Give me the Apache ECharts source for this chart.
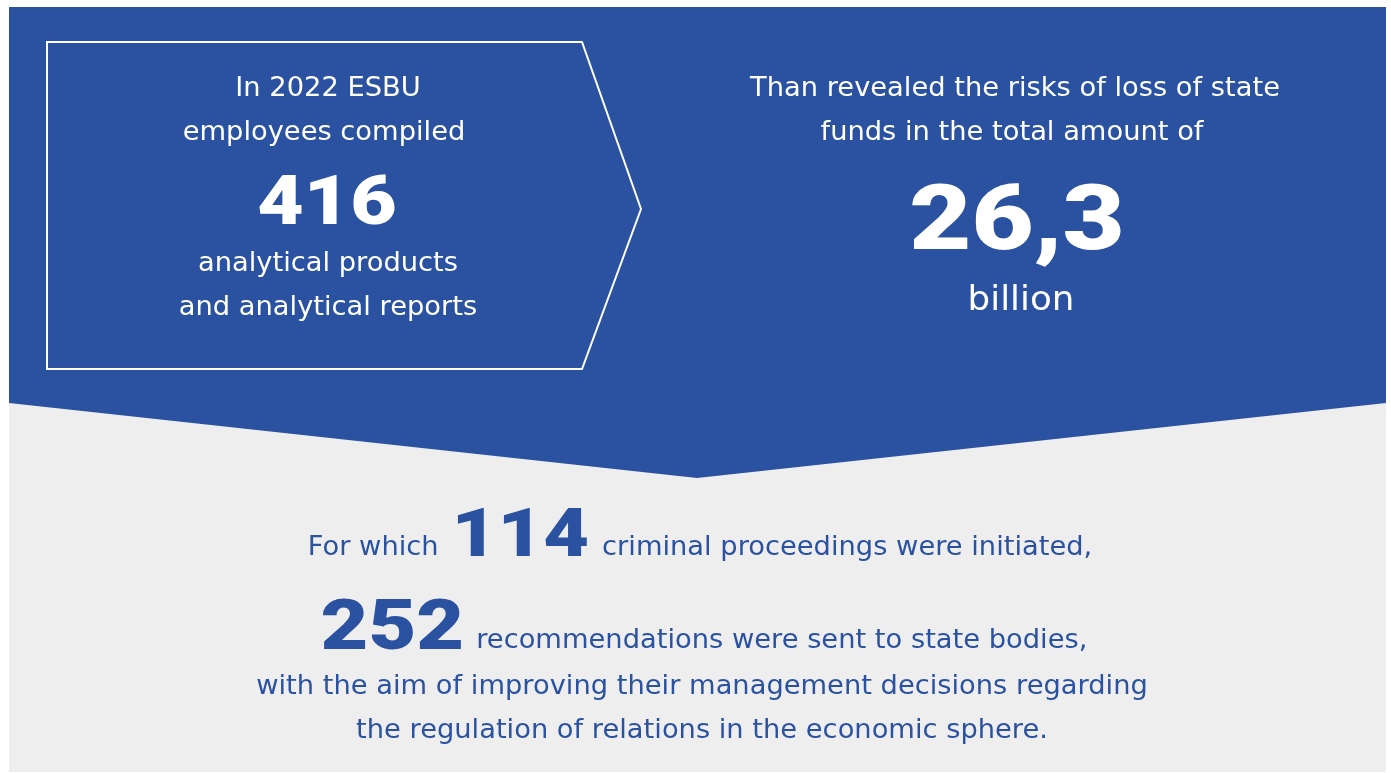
<!DOCTYPE html>
<html>
<head>
<meta charset="utf-8">
<title>ESBU 2022</title>
<script src="https://cdn.jsdelivr.net/npm/echarts@6/dist/echarts.min.js"></script>
<style>
  html, body { margin: 0; padding: 0; background: #ffffff; }
  #main { width: 1391px; height: 773px; }
</style>
</head>
<body>
<div id="main"></div>
<script>
// figures shown on the card
const bigNumbers = ['416', '26,3', '114', '252']
const boxLines = ['In 2022 ESBU', 'employees compiled', 'analytical products', 'and analytical reports']
const riskLines = ['Than revealed the risks of loss of state', 'funds in the total amount of']
const riskUnit = ['billion']
const bottomRow1 = ['For which', 'criminal proceedings were initiated,']
const bottomRow2 = ['recommendations were sent to state bodies,']
const bottomTail = ['with the aim of improving their management decisions regarding', 'the regulation of relations in the economic sphere.']

const BLUE = '#2a52a0'
const GREY = '#eeeeee'
const FONT = '"DejaVu Sans", sans-serif'
const HEAVY = 'Roboto, sans-serif'
const NUM_STRETCH = 1.18
const BODY_STRETCH = 1.05

const chart = echarts.init(document.getElementById('main'))

const ctx = document.createElement('canvas').getContext('2d')
function measure (text, size, weight, family) {
  ctx.font = weight + ' ' + size + 'px ' + family
  return ctx.measureText(text).width
}

function textEl (text, x, y, size, color, opts) {
  opts = opts || {}
  return {
    type: 'text',
    x: x,
    y: y,
    scaleX: opts.stretch || BODY_STRETCH,
    style: {
      text: text,
      fill: color,
      font: (opts.weight || 'normal') + ' ' + size + 'px ' + (opts.family || FONT),
      textAlign: opts.align || 'center',
      textVerticalAlign: 'middle'
    }
  }
}

// place segments on one row, centred, sharing a baseline
function row (segs, cx, baseline, gap) {
  let widths = segs.map(s => measure(s.text, s.size, s.weight || 'normal', s.family || FONT) * (s.stretch || BODY_STRETCH))
  let total = widths.reduce((a, b) => a + b, 0) + gap * (segs.length - 1)
  let x = cx - total / 2
  return segs.map((s, i) => {
    const el = textEl(s.text, x, baseline - s.size * (s.shift || 0.34), s.size, BLUE,
      { align: 'left', weight: s.weight, family: s.family, stretch: s.stretch })
    x += widths[i] + gap
    return el
  })
}

const num = { weight: 900, family: HEAVY, stretch: NUM_STRETCH }

const elements = [
  { type: 'rect', shape: { x: 9, y: 7, width: 1377, height: 765 }, style: { fill: GREY } },
  {
    type: 'polygon',
    shape: { points: [[9, 7], [1386, 7], [1386, 403], [697, 478], [9, 403]] },
    style: { fill: BLUE }
  },
  {
    type: 'polygon',
    shape: { points: [[47, 42], [582, 42], [641, 209], [582, 369], [47, 369]] },
    style: { fill: 'none', stroke: '#ffffff', lineWidth: 2 }
  },
  textEl(boxLines[0], 328, 89, 26, '#fff'),
  textEl(boxLines[1], 324, 133, 26, '#fff'),
  textEl(bigNumbers[0], 327, 207, 68, '#fff', num),
  textEl(boxLines[2], 328, 264, 26, '#fff'),
  textEl(boxLines[3], 328, 308, 26, '#fff'),
  textEl(riskLines[0], 1015, 89, 26, '#fff'),
  textEl(riskLines[1], 1012, 133, 26, '#fff'),
  textEl(bigNumbers[1], 1017, 226, 91, '#fff', num),
  textEl(riskUnit[0], 1021, 301, 34, '#fff')
]

row([
  { text: bottomRow1[0], size: 26, shift: 0.36 },
  { text: bigNumbers[2], size: 67, weight: 900, family: HEAVY, stretch: NUM_STRETCH, shift: 0.28 },
  { text: bottomRow1[1], size: 26, shift: 0.36 }
], 700, 558, 13).forEach(e => elements.push(e))

row([
  { text: bigNumbers[3], size: 70, weight: 900, family: HEAVY, stretch: NUM_STRETCH, shift: 0.28 },
  { text: bottomRow2[0], size: 26, shift: 0.36 }
], 704, 651, 12).forEach(e => elements.push(e))

elements.push(textEl(bottomTail[0], 702, 687, 26, BLUE))
elements.push(textEl(bottomTail[1], 702, 731, 26, BLUE))

chart.setOption({
  backgroundColor: '#ffffff',
  graphic: { elements: elements }
})
</script>
</body>
</html>
